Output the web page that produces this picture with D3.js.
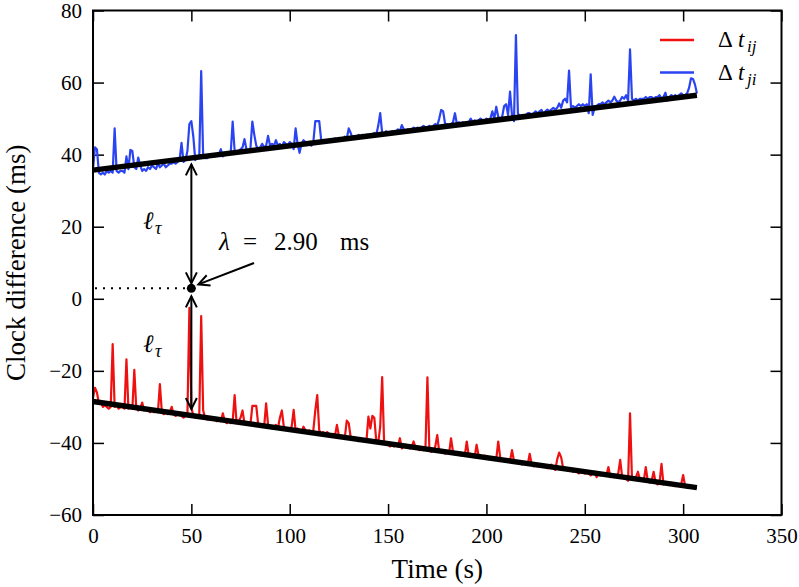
<!DOCTYPE html>
<html>
<head>
<meta charset="utf-8">
<script src="https://cdn.jsdelivr.net/npm/d3@7"></script>
<style>
  html, body { margin: 0; padding: 0; background: #fff; }
  svg { display: block; }
</style>
</head>
<body>
<svg id="chart" width="799" height="587"></svg>
<script>
// ---------------- DATA ----------------
const timeStep = 1; // s between samples

// Δt_ji (blue), ms, one value per second from t = 0 to 307
const dtJI = [
  36.0, 42.0, 41.5, 35.0, 34.5, 35.0, 34.5, 35.5, 35.0, 35.5,
  35.0, 47.3, 35.5, 35.0, 35.5, 35.5, 35.0, 39.5, 36.0, 41.3,
  41.0, 36.5, 36.0, 39.2, 37.0, 35.5, 36.0, 35.5, 36.5, 36.0,
  37.0, 36.5, 36.0, 37.5, 36.5, 37.0, 37.5, 36.5, 37.0, 37.5,
  37.5, 38.0, 37.5, 38.0, 38.5, 43.3, 38.0, 38.5, 41.0, 48.5,
  49.3, 45.0, 38.5, 39.0, 39.0, 63.2, 39.5, 39.0, 39.0, 39.5,
  39.5, 40.0, 39.5, 40.0, 40.0, 41.5, 39.5, 40.0, 40.5, 40.0,
  40.5, 49.2, 41.0, 40.5, 41.0, 41.5, 42.0, 44.3, 41.5, 41.0,
  41.5, 49.2, 45.5, 42.5, 41.5, 42.0, 43.0, 42.0, 42.5, 45.2,
  42.5, 43.0, 42.5, 44.0, 42.5, 43.0, 42.0, 43.5, 43.0, 42.5,
  43.5, 43.0, 41.5, 47.3, 43.0, 40.5, 43.0, 44.0, 43.5, 43.0,
  43.0, 42.5, 43.5, 49.3, 49.3, 49.3, 44.0, 43.5, 44.0, 43.5,
  44.0, 43.5, 44.0, 44.5, 44.0, 44.5, 44.0, 44.0, 45.0, 44.5,
  47.3, 46.0, 44.5, 45.0, 44.5, 45.5, 45.0, 45.5, 45.0, 45.5,
  45.5, 45.0, 45.5, 46.0, 45.5, 48.0, 51.5, 46.0, 45.5, 46.5,
  46.0, 46.0, 46.5, 46.0, 46.5, 47.0, 46.5, 48.2, 47.0, 46.5,
  47.0, 46.5, 47.0, 47.5, 47.0, 47.5, 47.0, 47.5, 48.0, 47.5,
  47.5, 48.0, 47.5, 48.0, 48.5, 48.0, 50.0, 52.4, 52.0, 48.5,
  48.5, 48.0, 48.5, 49.0, 51.5, 48.5, 49.0, 48.5, 49.0, 48.5,
  49.0, 49.0, 50.0, 49.0, 49.5, 49.0, 49.5, 50.0, 49.5, 49.0,
  50.0, 49.5, 50.0, 52.0, 50.0, 53.3, 50.5, 50.0, 50.5, 53.5,
  54.0, 51.0, 57.5, 51.0, 49.3, 73.2, 51.5, 50.5, 51.0, 51.0,
  51.0, 51.5, 51.5, 51.0, 51.5, 52.0, 51.5, 52.0, 52.4, 51.0,
  52.0, 52.5, 52.0, 52.5, 53.0, 52.5, 53.0, 54.2, 53.0, 55.0,
  55.5, 54.5, 63.3, 53.0, 53.5, 53.0, 53.5, 54.0, 53.5, 54.0,
  53.5, 54.0, 51.5, 62.3, 51.0, 53.0, 53.5, 54.0, 54.0, 54.5,
  54.0, 54.5, 55.0, 54.5, 55.0, 56.1, 55.0, 54.5, 55.0, 56.0,
  55.5, 56.5, 55.0, 69.2, 55.5, 55.0, 55.5, 55.0, 55.5, 55.5,
  55.5, 56.0, 55.5, 56.0, 56.0, 55.5, 56.0, 56.0, 56.5, 55.5,
  56.0, 57.2, 55.0, 56.0, 56.5, 56.0, 56.5, 56.0, 56.5, 57.0,
  56.5, 56.5, 57.0, 58.5, 61.2, 61.0, 59.5, 57.0
];

// Δt_ij (red), ms, one value per second from t = 0 to 307
const dtIJ = [
  -27.5, -24.7, -26.0, -29.0, -28.5, -30.0, -29.5, -30.0, -30.5, -30.0,
  -12.6, -30.0, -29.5, -30.5, -30.0, -30.0, -30.5, -16.8, -30.5, -30.0,
  -30.5, -19.7, -30.5, -31.0, -30.5, -28.8, -31.0, -30.5, -31.0, -31.5,
  -31.0, -31.5, -31.0, -31.5, -23.7, -31.5, -32.0, -31.5, -32.0, -31.5,
  -30.0, -32.0, -32.5, -32.0, -32.0, -32.5, -33.0, -32.5, -32.0, -2.5,
  -30.0, -32.5, -33.0, -32.5, -33.0, -4.8, -31.0, -33.0, -33.5, -33.5,
  -33.5, -33.0, -33.5, -34.0, -33.5, -34.0, -31.8, -34.0, -34.5, -34.0,
  -34.5, -34.0, -26.7, -34.5, -34.0, -33.0, -31.0, -34.5, -35.0, -34.5,
  -35.0, -29.7, -29.7, -29.7, -35.0, -35.5, -35.0, -35.5, -29.0, -35.0,
  -35.5, -36.0, -35.5, -35.0, -36.0, -33.0, -31.0, -35.5, -36.0, -36.5,
  -36.0, -35.5, -30.8, -36.5, -36.0, -36.5, -37.0, -35.5, -36.5, -37.0,
  -36.5, -37.0, -36.5, -31.0, -26.7, -36.5, -37.5, -37.0, -37.5, -37.0,
  -37.5, -38.0, -37.5, -38.0, -35.0, -38.0, -38.5, -38.0, -38.5, -33.8,
  -34.5, -38.5, -39.0, -38.5, -39.0, -39.5, -39.0, -39.5, -39.0, -39.5,
  -32.7, -36.0, -32.5, -33.0, -39.5, -40.0, -35.5, -21.7, -40.0, -40.5,
  -40.5, -41.0, -40.5, -41.0, -40.5, -41.0, -38.7, -41.5, -41.0, -40.5,
  -41.0, -41.5, -41.0, -39.6, -41.5, -41.5, -42.0, -41.5, -42.0, -41.5,
  -21.8, -42.0, -42.5, -42.0, -41.0, -37.8, -42.5, -42.0, -42.5, -43.0,
  -42.5, -43.0, -38.7, -42.5, -43.0, -42.5, -43.0, -43.5, -43.0, -43.5,
  -39.6, -43.5, -43.0, -43.5, -44.0, -40.5, -43.5, -44.0, -44.0, -43.5,
  -44.0, -44.5, -44.0, -44.5, -44.0, -44.5, -39.6, -44.0, -45.0, -44.5,
  -45.0, -44.5, -45.0, -42.0, -45.0, -45.5, -45.0, -45.5, -46.0, -45.5,
  -45.5, -46.0, -43.0, -46.0, -46.5, -46.0, -46.5, -46.0, -46.5, -46.0,
  -46.5, -47.0, -46.5, -46.0, -47.0, -47.5, -44.5, -42.7, -44.0, -47.0,
  -47.5, -47.0, -47.5, -47.5, -48.0, -47.5, -48.0, -48.5, -48.0, -48.0,
  -48.5, -48.0, -48.5, -49.0, -48.5, -48.0, -49.5, -48.5, -49.0, -48.5,
  -49.0, -49.0, -46.7, -49.5, -49.0, -49.5, -49.0, -48.5, -44.7, -49.5,
  -49.5, -50.0, -50.5, -31.8, -50.0, -50.0, -49.5, -48.0, -50.0, -50.5,
  -50.5, -46.7, -50.5, -51.0, -50.5, -48.0, -51.0, -51.5, -51.0, -45.8,
  -51.5, -51.0, -51.5, -51.5, -51.0, -51.5, -52.0, -51.5, -52.0, -51.5,
  -48.9, -52.0, -52.5, -52.5, -52.5, -52.0, -52.5, -52.5
];

// fitted straight lines: [t, value] end points
const fitJI = [[0, 35.7], [307, 56.5]];
const fitIJ = [[0, -28.5], [307, -52.4]];

// annotation values
const tauTime = 50;
const lambdaValue = 2.90;
const upperArrowEnd = 37.3;
const lowerArrowEnd = -30.6;

const xTicks = [0, 50, 100, 150, 200, 250, 300, 350];
const yTicks = [-60, -40, -20, 0, 20, 40, 60, 80];
const xDomain = [0, 350];
const yDomain = [-60, 80];

const seriesColors = { ij: "#ee1111", ji: "#2b44f2" };
const FONT = '"Liberation Serif"';

// ---------------- DRAW ----------------
const svg = d3.select("#chart");
const L = 93, R = 781.5, T = 10.5, B = 515;
const x = d3.scaleLinear().domain(xDomain).range([L, R]);
const y = d3.scaleLinear().domain(yDomain).range([B, T]);

const fmt = d3.format("");

const tickLen = 11;
const gx = svg.append("g").attr("transform", `translate(0,${B})`)
  .call(d3.axisBottom(x).tickValues(xTicks).tickSizeInner(-tickLen).tickSizeOuter(0).tickPadding(13).tickFormat(fmt));
const gy = svg.append("g").attr("transform", `translate(${L},0)`)
  .call(d3.axisLeft(y).tickValues(yTicks).tickSizeInner(-tickLen).tickSizeOuter(0).tickPadding(11).tickFormat(fmt));
const gxt = svg.append("g").attr("transform", `translate(0,${T})`)
  .call(d3.axisTop(x).tickValues(xTicks).tickSizeInner(-tickLen).tickSizeOuter(0).tickFormat(""));
const gyr = svg.append("g").attr("transform", `translate(${R},0)`)
  .call(d3.axisRight(y).tickValues(yTicks).tickSizeInner(-tickLen).tickSizeOuter(0).tickFormat(""));
[gx, gy, gxt, gyr].forEach(g => {
  g.select(".domain").remove();
  g.selectAll(".tick line").attr("stroke", "#000").attr("stroke-width", 1.5);
  g.selectAll("text").attr("font-family", FONT).attr("font-size", 21).attr("fill", "#000");
});
gxt.selectAll("text").remove();
gyr.selectAll("text").remove();

// data series
const line = d3.line().x((d, i) => x(i * timeStep)).y(d => y(d));
svg.append("path").datum(dtIJ).attr("d", line)
  .attr("fill", "none").attr("stroke", seriesColors.ij).attr("stroke-width", 2.2).attr("stroke-linejoin", "round");
svg.append("path").datum(dtJI).attr("d", line)
  .attr("fill", "none").attr("stroke", seriesColors.ji).attr("stroke-width", 2.2).attr("stroke-linejoin", "round");

// fitted lines
const fitLine = d3.line().x(d => x(d[0])).y(d => y(d[1]));
[fitJI, fitIJ].forEach(f => {
  svg.append("path").datum(f).attr("d", fitLine)
    .attr("fill", "none").attr("stroke", "#000").attr("stroke-width", 5.5).attr("stroke-linecap", "butt");
});

// frame
svg.append("rect").attr("x", L).attr("y", T).attr("width", R - L).attr("height", B - T)
  .attr("fill", "none").attr("stroke", "#000").attr("stroke-width", 2);

// annotations
const ann = svg.append("g");
const dotX = x(tauTime), dotY = y(lambdaValue);
ann.append("line").attr("x1", L + 2).attr("x2", dotX - 6).attr("y1", dotY).attr("y2", dotY)
  .attr("stroke", "#000").attr("stroke-width", 2).attr("stroke-dasharray", "2,6");
ann.append("circle").attr("cx", dotX).attr("cy", dotY).attr("r", 4.5).attr("fill", "#000");

function chevron(tipX, tipY, angle) {
  const len = 11, half = 5.5;
  const bx = tipX - len * Math.cos(angle), by = tipY - len * Math.sin(angle);
  const px = -Math.sin(angle) * half, py = Math.cos(angle) * half;
  ann.append("path")
    .attr("d", `M${bx + px},${by + py}L${tipX},${tipY}L${bx - px},${by - py}`)
    .attr("fill", "none").attr("stroke", "#000").attr("stroke-width", 2);
}
function dblArrow(x0, y0, x1, y1) {
  ann.append("line").attr("x1", x0).attr("y1", y0).attr("x2", x1).attr("y2", y1)
    .attr("stroke", "#000").attr("stroke-width", 2);
  const a = Math.atan2(y1 - y0, x1 - x0);
  chevron(x1, y1, a);
  chevron(x0, y0, a + Math.PI);
}
dblArrow(dotX, dotY - 5, dotX, y(upperArrowEnd));
dblArrow(dotX, dotY + 8, dotX, y(lowerArrowEnd));

// λ arrow
const lx0 = 254, ly0 = 263, lx1 = dotX + 7, ly1 = dotY - 4;
ann.append("line").attr("x1", lx0).attr("y1", ly0).attr("x2", lx1).attr("y2", ly1)
  .attr("stroke", "#000").attr("stroke-width", 2);
chevron(lx1, ly1, Math.atan2(ly1 - ly0, lx1 - lx0));

function addText(parent, x0, y0, size, str, italic) {
  const t = parent.append("text").attr("x", x0).attr("y", y0)
    .attr("font-family", FONT).attr("font-size", size).text(str);
  if (italic) t.attr("font-style", "italic");
  return t;
}
// ℓτ labels
[229, 352].forEach(yy => {
  addText(ann, 143, yy, 25, "ℓ", true);
  addText(ann, 155, yy + 5, 18, "τ", true);
});
// λ = 2.90 ms
addText(ann, 219, 250, 25, "λ", true);
addText(ann, 243, 250, 25, "=");
addText(ann, 274, 250, 25, "2.90");
addText(ann, 340, 250, 25, "ms");

// axis titles
svg.append("text").attr("x", (L + R) / 2).attr("y", 578).attr("text-anchor", "middle")
  .attr("font-family", FONT).attr("font-size", 27).text("Time (s)");
svg.append("text").attr("transform", `translate(25,${(T + B) / 2}) rotate(-90)`)
  .attr("text-anchor", "middle").attr("font-family", FONT).attr("font-size", 27).text("Clock difference (ms)");

// legend
const legend = svg.append("g");
const legendItems = [
  { sub: "ij", color: seriesColors.ij },
  { sub: "ji", color: seriesColors.ji }
];
legendItems.forEach((d, i) => {
  const ly = 40 + i * 32.5;
  legend.append("line").attr("x1", 660).attr("x2", 694).attr("y1", ly).attr("y2", ly)
    .attr("stroke", d.color).attr("stroke-width", 2.5);
  addText(legend, 718, ly + 7, 23, "Δ");
  addText(legend, 738, ly + 7, 23, "t", true);
  addText(legend, 747, ly + 12, 17, d.sub, true);
});
</script>
</body>
</html>
